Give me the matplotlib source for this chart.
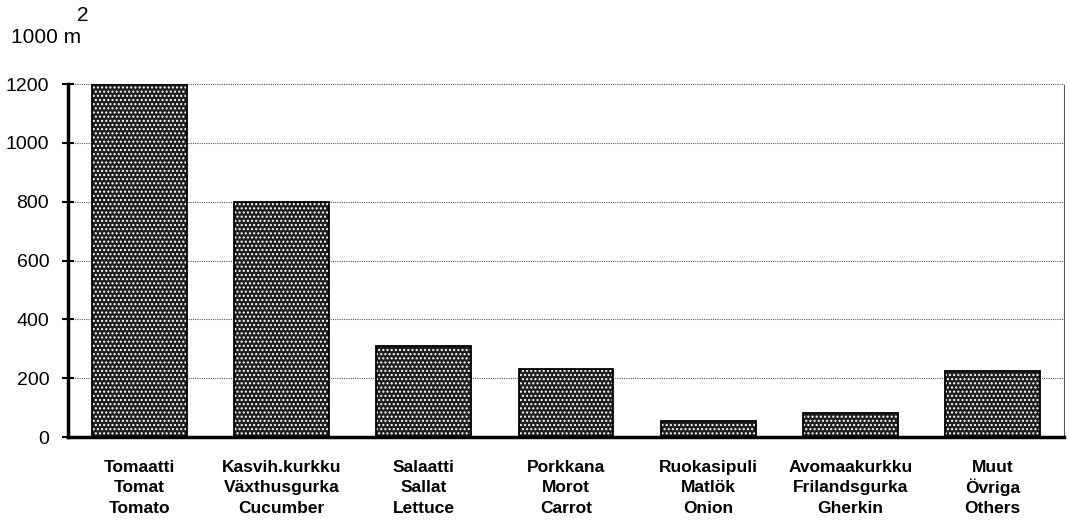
import numpy as np
from matplotlib import pyplot as plt


plt.rcParams["font.family"] = ["Liberation Sans", "DejaVu Sans"]

names_fi = ["Tomaatti", "Kasvih.kurkku", "Salaatti", "Porkkana",
            "Ruokasipuli", "Avomaakurkku", "Muut"]
names_sv = ["Tomat", "Växthusgurka", "Sallat", "Morot",
            "Matlök", "Frilandsgurka", "Övriga"]
names_en = ["Tomato", "Cucumber", "Lettuce", "Carrot",
            "Onion", "Gherkin", "Others"]
area = [1200, 800, 310, 230, 55, 80, 225]
yticks = [0, 200, 400, 600, 800, 1000, 1200]


fig = plt.figure(figsize=(10.69, 5.22), dpi=100)
ax = fig.add_axes([0.0636, 0.1628, 0.9317, 0.6762])

x = np.arange(len(names_fi))

# stippled bars: dark fill with white dot hatch, then a black outline
ax.bar(x, area, width=0.667, color="#1e1e1e", edgecolor="white",
       hatch="....", linewidth=0, zorder=2)
ax.bar(x, area, width=0.667, fill=False, edgecolor="black",
       linewidth=1.3, zorder=3)

ax.set_xlim(-0.5, 6.5)
ax.set_ylim(0, 1200)
ax.set_yticks(yticks)
ax.set_yticklabels([str(v) for v in yticks], fontsize=14)
ax.set_xticks(x)
ax.set_xticklabels([])

ax.tick_params(axis="x", length=0)
ax.tick_params(axis="y", direction="inout", length=9, width=1.5, pad=9)

# three-language category labels, one text per line so that the
# umlauts do not push a line down
trans = ax.get_xaxis_transform()
for rows, ypos in [(names_fi, -0.085), (names_sv, -0.1435), (names_en, -0.203)]:
    for i, name in enumerate(rows):
        ax.text(i, ypos, name, transform=trans, ha="center", va="center",
                fontsize=12.5, fontweight="bold", clip_on=False)

ax.grid(axis="y", linestyle=(0, (1, 1)), color="0.35", linewidth=0.8, zorder=0)
ax.set_axisbelow(True)

for side in ["left", "bottom"]:
    ax.spines[side].set_linewidth(2.5)
    ax.spines[side].set_color("black")
ax.spines["top"].set_visible(False)
ax.spines["right"].set_linestyle((0, (1, 1)))
ax.spines["right"].set_color("0.35")
ax.spines["right"].set_linewidth(0.8)

fig.text(0.010, 0.928, "1000 m", fontsize=15, ha="left", va="center")
fig.text(0.077, 0.970, "2", fontsize=15, ha="center", va="center")

fig.savefig("out.png", dpi=100)
